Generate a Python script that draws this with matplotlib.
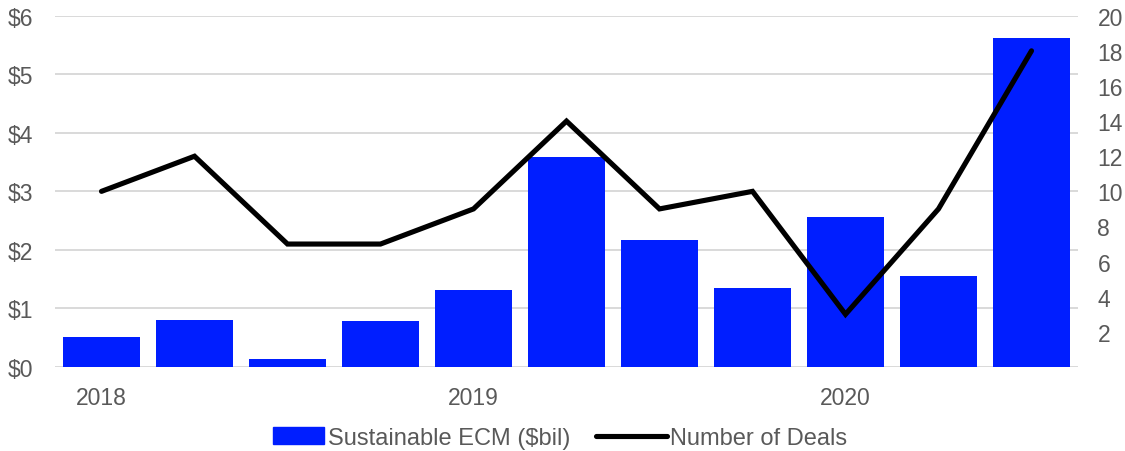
import matplotlib
matplotlib.use("Agg")
import matplotlib.pyplot as plt
import matplotlib.patches as mpatches
from matplotlib.legend_handler import HandlerPatch
import numpy as np

quarters = ["2018 Q1", "2018 Q2", "2018 Q3", "2018 Q4", "2019 Q1", "2019 Q2", "2019 Q3",
            "2019 Q4", "2020 Q1", "2020 Q2", "2020 Q3"]
ecm_values = [0.52, 0.80, 0.13, 0.79, 1.31, 3.59, 2.17, 1.35, 2.57, 1.55, 5.62]
deals = [10, 12, 7, 7, 9, 14, 9, 10, 3, 9, 18]
year_labels = {0: "2018", 4: "2019", 8: "2020"}
left_ticks = [0, 1, 2, 3, 4, 5, 6]
left_ticklabels = ["$0", "$1", "$2", "$3", "$4", "$5", "$6"]
right_ticks = [2, 4, 6, 8, 10, 12, 14, 16, 18, 20]

plt.rcParams['font.family'] = ['Liberation Sans', 'DejaVu Sans']
text_color = "#595959"
grid_color = "#d9d9d9"
bar_color = "#001eff"
fs = 16.5

fig = plt.figure(figsize=(11.25, 4.52), dpi=100)
ax = fig.add_axes([55/1125, 1 - 368/452, (1078-55)/1125, (368-16.7)/452])
x = np.arange(len(quarters))
bars = ax.bar(x, ecm_values, width=0.83, color=bar_color, label="Sustainable ECM ($bil)", zorder=2)
ax.set_xlim(-0.5, len(quarters) - 0.5)
ax.set_ylim(0, 6)
ax.set_yticks(left_ticks)
ax.set_yticklabels(left_ticklabels)
ax.set_xticks(list(year_labels.keys()))
ax.set_xticklabels(list(year_labels.values()))
ax.grid(axis="y", color=grid_color, linewidth=1.4, zorder=0)
for s in ax.spines.values():
    s.set_visible(False)
ax.tick_params(axis="both", length=0, labelsize=fs, colors=text_color)
ax.tick_params(axis="x", pad=14)
ax.tick_params(axis="y", pad=16)
ax.set_axisbelow(True)

ax2 = ax.twinx()
line, = ax2.plot(x, deals, color="black", linewidth=3.7, label="Number of Deals", zorder=3,
                 solid_capstyle="round", solid_joinstyle="miter")
ax2.set_ylim(0, 20)
ax2.set_yticks(right_ticks)
for s in ax2.spines.values():
    s.set_visible(False)
ax2.tick_params(axis="y", length=0, labelsize=fs, colors=text_color, pad=14)


def narrow_patch(legend, orig_handle, xdescent, ydescent, width, height, fontsize):
    w = width * 0.72
    return mpatches.Rectangle((-xdescent + width - w, -ydescent), w, height)


bar_handle = mpatches.Patch(color=bar_color)
leg = fig.legend(handles=[bar_handle, line], labels=["Sustainable ECM ($bil)", "Number of Deals"],
                 loc="center", bbox_to_anchor=(0.5 - 12/1125, 1 - 439/452), ncol=2, frameon=False,
                 fontsize=17, handlelength=3.0, handleheight=0.75, columnspacing=1.1,
                 handletextpad=0.15, borderpad=0,
                 handler_map={bar_handle: HandlerPatch(patch_func=narrow_patch)})
for t in leg.get_texts():
    t.set_color(text_color)

fig.savefig("out.png", dpi=100)
